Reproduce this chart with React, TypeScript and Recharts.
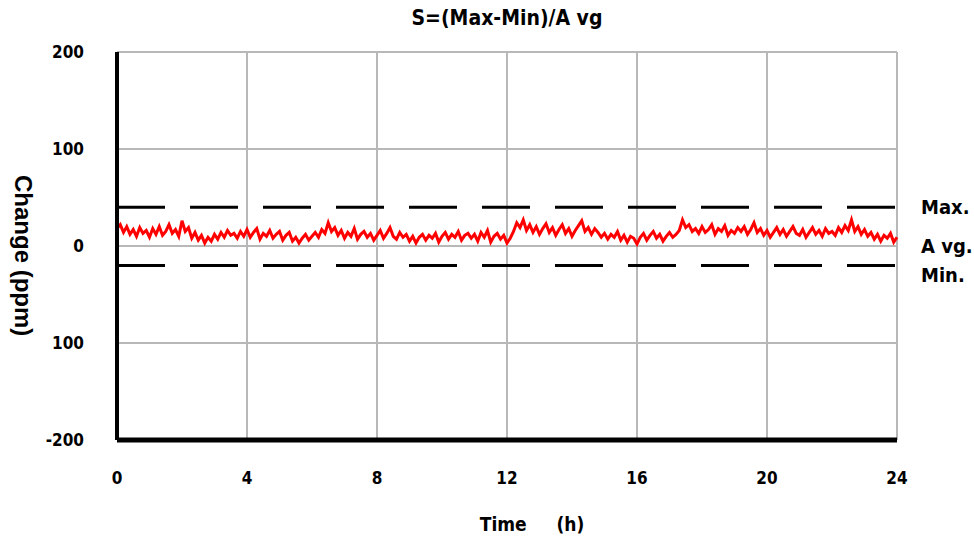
import { LineChart, Line, XAxis, YAxis, CartesianGrid, ReferenceLine } from 'recharts'

const TITLE = 'S=(Max-Min)/A vg'
const X_TICKS = [0, 4, 8, 12, 16, 20, 24]
const Y_TICKS = [-200, -100, 0, 100, 200]
const Y_TICK_LABELS: Record<number, string> = { 200: '200', 100: '100', 0: '0', [-100]: '100', [-200]: '-200' }
const MAX_LEVEL = 40
const MIN_LEVEL = -20
const AVG_LABEL_LEVEL = 0

// change (ppm), one reading every 0.1 h from 0 to 24 h
const CHANGE = [
  18, 22, 14, 20, 12, 17, 10, 19, 13, 16,
  9, 18, 12, 20, 11, 15, 22, 13, 17, 10,
  26, 15, 19, 8, 14, 6, 11, 3, 9, 5,
  12, 7, 14, 9, 16, 11, 13, 8, 15, 10,
  17, 9, 14, 18, 7, 13, 10, 16, 8, 12,
  15, 6, 11, 14, 5, 9, 3, 8, 12, 6,
  10, 14, 9, 17, 13, 24, 15, 19, 11, 16,
  8, 14, 10, 18, 7, 12, 15, 9, 13, 6,
  11, 16, 8, 13, 19, 10, 7, 14, 9, 12,
  5, 10, 3, 9, 12, 6, 11, 8, 13, 4,
  10, 14, 7, 12, 9, 15, 6, 11, 13, 8,
  12, 5, 14, 9, 16, 4, 10, 13, 7, 11,
  3, 8, 15, 24, 19, 27, 16, 22, 14, 20,
  12, 18, 23, 14, 19, 11, 17, 22, 13, 18,
  10, 16, 21, 26, 15, 19, 12, 18, 14, 9,
  13, 7, 12, 9, 15, 6, 11, 4, 10, 8,
  2, 9, 13, 6, 11, 15, 8, 12, 5, 10,
  14, 9, 12, 16, 27, 19, 22, 15, 18, 13,
  20, 14, 17, 22, 12, 18, 15, 21, 11, 16,
  13, 19, 15, 20, 12, 17, 24, 14, 18, 11,
  16, 9, 14, 19, 12, 17, 10, 15, 20, 13,
  11, 17, 9, 14, 19, 12, 16, 10, 18, 13,
  15, 11, 19, 14, 21, 16, 27, 15, 20, 12,
  17, 10, 14, 7, 12, 5, 11, 8, 13, 4,
  9,
]

const FONT = "'DejaVu Sans Condensed', 'Liberation Sans', Arial, sans-serif"
const WIDE_FONT = "'Liberation Sans', Arial, sans-serif"
const GRID = '#b8b8b8'

const data = CHANGE.map((v, i) => ({ t: i / 10, v }))

const sideLabel = (value: string, dy = 0) => ({
  value,
  position: 'right' as const,
  offset: 24,
  dy,
  fill: '#000',
  fontSize: 20,
  fontWeight: 700,
  fontFamily: FONT,
})

export default function App() {
  return (
    <div style={{ position: 'fixed', left: 0, top: 0, width: 974, height: 541, background: '#fff' }}>
      <div
        style={{
          position: 'absolute',
          left: 0,
          width: 974,
          top: 6,
          textAlign: 'center',
          paddingLeft: 40,
          boxSizing: 'border-box',
          fontFamily: FONT,
          fontWeight: 700,
          fontSize: 21,
        }}
      >
        {TITLE}
      </div>
      <LineChart width={974} height={541} data={data} margin={{ top: 52, right: 77, bottom: 0, left: 0 }}>
        <CartesianGrid stroke={GRID} strokeWidth={2} />
        <XAxis
          dataKey="t"
          type="number"
          domain={[0, 24]}
          ticks={X_TICKS}
          tickLine={false}
          axisLine={{ stroke: '#000', strokeWidth: 5 }}
          tickMargin={26}
          tick={{ fill: '#000', fontSize: 17, fontWeight: 700, fontFamily: FONT }}
          height={101}
          label={{
            value: 'Time\u00a0\u00a0\u00a0\u00a0\u00a0(h)',
            position: 'insideBottom',
            offset: 10,
            dx: 25,
            fill: '#000',
            fontSize: 19,
            fontWeight: 700,
            fontFamily: FONT,
          }}
        />
        <YAxis
          type="number"
          domain={[-200, 200]}
          ticks={Y_TICKS}
          tickFormatter={(v: number) => Y_TICK_LABELS[v] ?? String(v)}
          tickLine={false}
          axisLine={{ stroke: '#000', strokeWidth: 4 }}
          tickMargin={27}
          tick={{ fill: '#000', fontSize: 17, fontWeight: 700, fontFamily: FONT }}
          width={117}
          label={{
            value: 'Change (ppm)',
            angle: 90,
            position: 'insideLeft',
            offset: 12,
            dx: 12,
            dy: -71,
            fill: '#000',
            fontSize: 24,
            fontWeight: 700,
            fontFamily: WIDE_FONT,
          }}
        />
        <ReferenceLine y={MAX_LEVEL} stroke="#000" strokeWidth={3} strokeDasharray="48 25" label={sideLabel('Max.')} />
        <ReferenceLine y={MIN_LEVEL} stroke="#000" strokeWidth={3} strokeDasharray="48 25" label={sideLabel('Min.', 9)} />
        <ReferenceLine y={AVG_LABEL_LEVEL} stroke="none" label={sideLabel('A vg.')} />
        <Line
          type="linear"
          dataKey="v"
          stroke="#ff0000"
          strokeWidth={3}
          dot={false}
          isAnimationActive={false}
        />
      </LineChart>
    </div>
  )
}
